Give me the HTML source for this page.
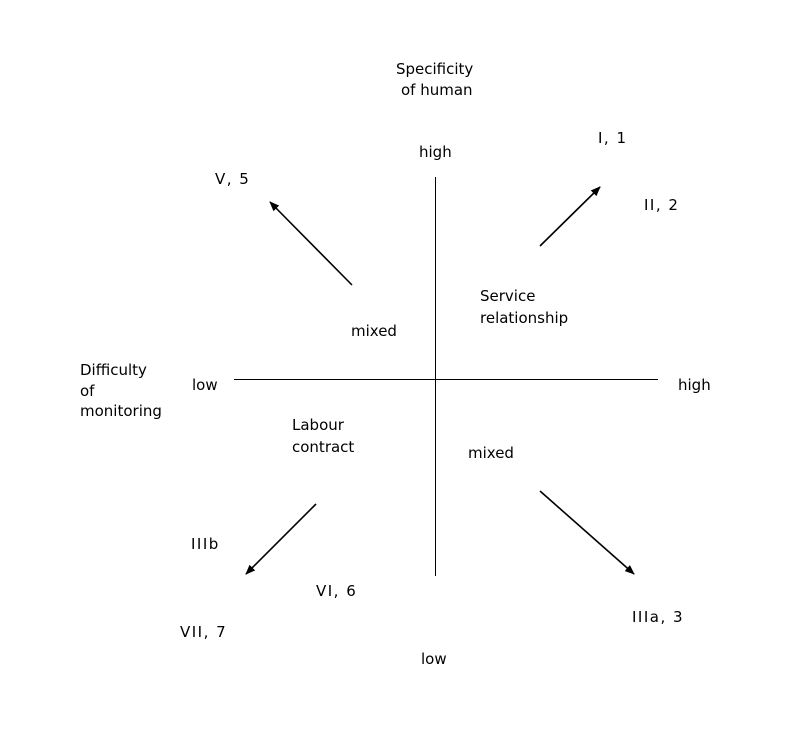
<!DOCTYPE html>
<html><head><style>body{margin:0;background:#fff}svg text{font-family:"DejaVu Sans",sans-serif;font-size:15px;fill:#000}.r{letter-spacing:1.5px}</style></head>
<body>
<svg width="785" height="745" viewBox="0 0 785 745">
<defs><marker id="a" markerWidth="10" markerHeight="8" refX="9" refY="4" orient="auto" markerUnits="userSpaceOnUse"><path d="M0,0 L10,4 L0,8 z" fill="#000"/></marker></defs>
<line x1="435.5" y1="177" x2="435.5" y2="576" stroke="#000" shape-rendering="crispEdges"/>
<line x1="234" y1="379.5" x2="658" y2="379.5" stroke="#000" shape-rendering="crispEdges"/>
<g stroke="#000" stroke-width="1.6" marker-end="url(#a)">
<line x1="352" y1="285" x2="270" y2="202"/>
<line x1="540" y1="246" x2="600" y2="187"/>
<line x1="316" y1="504" x2="246" y2="574"/>
<line x1="540" y1="491" x2="634" y2="574"/>
</g>
<text x="396" y="74">Specificity</text>
<text x="401" y="95">of human</text>
<text x="419" y="157">high</text>
<text x="598" y="143" class="r">I, 1</text>
<text x="644" y="210" class="r">II, 2</text>
<text x="215" y="184" class="r">V, 5</text>
<text x="480" y="301">Service</text>
<text x="480" y="323">relationship</text>
<text x="351" y="336">mixed</text>
<text x="80" y="375">Difficulty</text>
<text x="80" y="396">of</text>
<text x="80" y="416">monitoring</text>
<text x="192" y="390">low</text>
<text x="678" y="390">high</text>
<text x="292" y="430">Labour</text>
<text x="292" y="452">contract</text>
<text x="468" y="458">mixed</text>
<text x="191" y="549" class="r">IIIb</text>
<text x="316" y="596" class="r">VI, 6</text>
<text x="180" y="637" class="r">VII, 7</text>
<text x="632" y="622" class="r">IIIa, 3</text>
<text x="421" y="664">low</text>
</svg>
</body></html>
